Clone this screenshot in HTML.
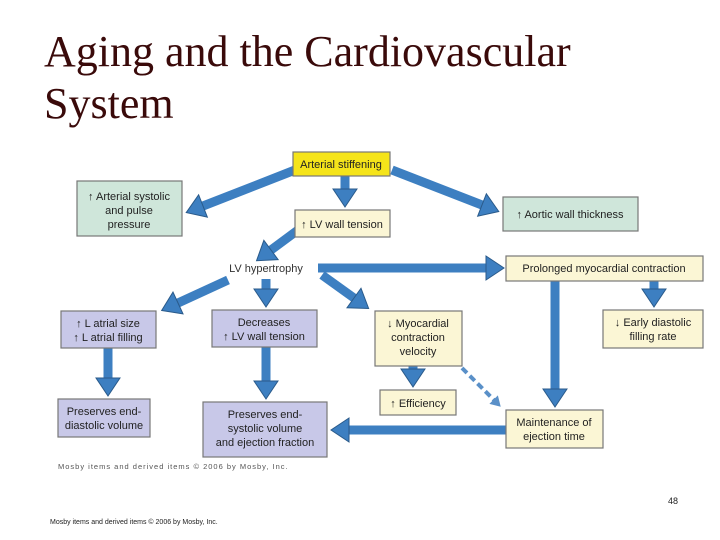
<!DOCTYPE html>
<html><head><meta charset="utf-8"><style>
html,body{margin:0;padding:0;background:#fff;width:720px;height:540px;overflow:hidden}
.t{position:absolute;left:44px;font-family:"Liberation Serif",serif;font-size:44px;color:#3a0a0a;line-height:52px}
</style></head><body>
<div class="t" style="top:26px">Aging and the Cardiovascular<br>System</div>
<svg width="720" height="540" style="position:absolute;left:0;top:0" font-family="Liberation Sans, sans-serif">
<defs>
<marker id="h" markerUnits="userSpaceOnUse" markerWidth="28" markerHeight="28" refX="2" refY="13" orient="auto"><path d="M2,1 L20,13 L2,25 Z" fill="#3d7fc1" stroke="#2a5a8a" stroke-width="1"/></marker>
<marker id="hd" markerUnits="userSpaceOnUse" markerWidth="16" markerHeight="16" refX="10" refY="8" orient="auto"><path d="M1,2 L11,8 L1,14 Z" fill="#5a90c8"/></marker>
</defs>
<g stroke="#3d7fc1" stroke-width="9" marker-end="url(#h)" fill="none">
<line x1="295" y1="170" x2="203" y2="206"/>
<line x1="345" y1="176" x2="345" y2="189"/>
<line x1="392" y1="170" x2="482" y2="205"/>
<line x1="298" y1="230" x2="271" y2="250"/>
<line x1="318" y1="268" x2="486" y2="268"/>
<line x1="228" y1="280" x2="178" y2="303"/>
<line x1="266" y1="279" x2="266" y2="289"/>
<line x1="322" y1="275" x2="354" y2="298"/>
<line x1="108" y1="348" x2="108" y2="378"/>
<line x1="266" y1="347" x2="266" y2="381"/>
<line x1="413" y1="366" x2="413" y2="369"/>
<line x1="555" y1="281" x2="555" y2="389"/>
<line x1="654" y1="281" x2="654" y2="289"/>
<line x1="506" y1="430" x2="349" y2="430"/>
</g>
<line x1="462" y1="368" x2="500" y2="406" stroke="#5a90c8" stroke-width="4" stroke-dasharray="7,4" marker-end="url(#hd)"/>
<g stroke="#777" stroke-width="1.2">
<rect x="293" y="152" width="97" height="24" fill="#f5e41a"/>
<rect x="77" y="181" width="105" height="55" fill="#cfe6da"/>
<rect x="295" y="210" width="95" height="27" fill="#fbf6d5"/>
<rect x="503" y="197" width="135" height="34" fill="#cfe6da"/>
<rect x="506" y="256" width="197" height="25" fill="#fbf6d5"/>
<rect x="61" y="311" width="95" height="37" fill="#c8c8e8"/>
<rect x="212" y="310" width="105" height="37" fill="#c8c8e8"/>
<rect x="375" y="311" width="87" height="55" fill="#fbf6d5"/>
<rect x="603" y="310" width="100" height="38" fill="#fbf6d5"/>
<rect x="380" y="390" width="76" height="25" fill="#fbf6d5"/>
<rect x="58" y="399" width="92" height="38" fill="#c8c8e8"/>
<rect x="203" y="402" width="124" height="55" fill="#c8c8e8"/>
<rect x="506" y="410" width="97" height="38" fill="#fbf6d5"/>
</g>
<g font-size="11" fill="#222" text-anchor="middle">
<text x="341" y="168">Arterial stiffening</text>
<text x="129" y="200">↑ Arterial systolic</text><text x="129" y="214">and pulse</text><text x="129" y="228">pressure</text>
<text x="342" y="228">↑ LV wall tension</text>
<text x="570" y="218">↑ Aortic wall thickness</text>
<text x="266" y="272" fill="#333">LV hypertrophy</text>
<text x="604" y="272">Prolonged myocardial contraction</text>
<text x="108" y="327">↑ L atrial size</text><text x="108" y="341">↑ L atrial filling</text>
<text x="264" y="326">Decreases</text><text x="264" y="340">↑ LV wall tension</text>
<text x="418" y="327">↓ Myocardial</text><text x="418" y="341">contraction</text><text x="418" y="355">velocity</text>
<text x="653" y="326">↓ Early diastolic</text><text x="653" y="340">filling rate</text>
<text x="418" y="407">↑ Efficiency</text>
<text x="104" y="415">Preserves end-</text><text x="104" y="429">diastolic volume</text>
<text x="265" y="418">Preserves end-</text><text x="265" y="432">systolic volume</text><text x="265" y="446">and ejection fraction</text>
<text x="554" y="426">Maintenance of</text><text x="554" y="440">ejection time</text>
</g>
<text x="58" y="469" font-size="7.5" fill="#555" letter-spacing="1">Mosby items and derived items © 2006 by Mosby, Inc.</text>
<text x="668" y="504" font-size="9" fill="#222">48</text>
<text x="50" y="524" font-size="7" fill="#222">Mosby items and derived items © 2006 by Mosby, Inc.</text>
</svg>
</body></html>
